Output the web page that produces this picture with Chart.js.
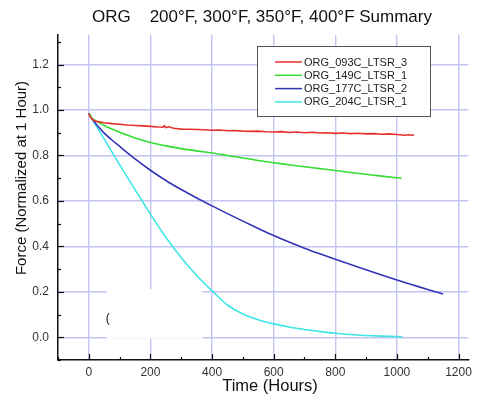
<!DOCTYPE html>
<html>
<head>
<meta charset="utf-8">
<script src="https://cdn.jsdelivr.net/npm/chart.js@4/dist/chart.umd.min.js"></script>
<style>
  html, body { margin: 0; padding: 0; background: #fff; }
  #wrap { width: 477px; height: 409px; }
</style>
</head>
<body>
<div id="wrap"><canvas id="myChart" width="477" height="409"></canvas></div>
<script>
// ---- data ----
const seriesNames = ['ORG_093C_LTSR_3', 'ORG_149C_LTSR_1', 'ORG_177C_LTSR_2', 'ORG_204C_LTSR_1'];

const redTime = [0, 5, 15, 25, 50, 75, 100, 125, 150, 175, 200, 225, 240, 245, 250, 260, 275, 300, 325, 350, 375, 400, 425, 450, 475, 500, 525, 550, 575, 600, 625, 650, 675, 700, 725, 750, 775, 800, 825, 850, 875, 900, 925, 950, 975, 1000, 1025, 1040, 1050, 1055];
const redForce = [0.985, 0.968, 0.956, 0.950, 0.944, 0.940, 0.937, 0.934, 0.932, 0.930, 0.928, 0.925, 0.924, 0.931, 0.923, 0.926, 0.920, 0.916, 0.915, 0.914, 0.913, 0.911, 0.912, 0.909, 0.910, 0.907, 0.906, 0.907, 0.904, 0.903, 0.905, 0.901, 0.903, 0.900, 0.902, 0.899, 0.900, 0.897, 0.899, 0.896, 0.898, 0.895, 0.896, 0.893, 0.895, 0.892, 0.889, 0.891, 0.888, 0.893];

const greenTime = [0, 10, 25, 50, 75, 100, 150, 200, 250, 300, 350, 400, 450, 500, 550, 600, 650, 700, 750, 800, 850, 900, 950, 1000, 1015];
const greenForce = [0.985, 0.965, 0.951, 0.932, 0.916, 0.902, 0.877, 0.857, 0.842, 0.830, 0.820, 0.811, 0.800, 0.789, 0.778, 0.768, 0.759, 0.750, 0.742, 0.734, 0.725, 0.717, 0.709, 0.702, 0.700];

const blueTime = [0, 10, 25, 50, 75, 100, 150, 200, 250, 300, 350, 400, 450, 500, 550, 600, 650, 700, 750, 800, 850, 900, 950, 1000, 1050, 1100, 1150];
const blueForce = [0.985, 0.962, 0.936, 0.898, 0.868, 0.840, 0.785, 0.735, 0.690, 0.650, 0.613, 0.578, 0.544, 0.511, 0.479, 0.448, 0.419, 0.392, 0.367, 0.343, 0.320, 0.297, 0.274, 0.252, 0.231, 0.210, 0.190];

const cyanTime = [0, 25, 50, 100, 150, 200, 250, 300, 350, 400, 450, 500, 550, 600, 650, 700, 750, 800, 850, 900, 950, 1000, 1018];
const cyanForce = [0.985, 0.928, 0.872, 0.760, 0.650, 0.542, 0.440, 0.350, 0.272, 0.204, 0.142, 0.102, 0.077, 0.059, 0.045, 0.034, 0.025, 0.018, 0.012, 0.008, 0.005, 0.003, 0.002];

const xTicks = [0, 200, 400, 600, 800, 1000, 1200];
const yTicks = [0.0, 0.2, 0.4, 0.6, 0.8, 1.0, 1.2];

const titleText = 'ORG    200°F, 300°F, 350°F, 400°F Summary';
const xTitle = 'Time (Hours)';
const yTitle = 'Force (Normalized at 1 Hour)';

const lineColors = ['#e8302c', '#33dd33', '#3434b8', '#3ee6e6'];
const FONT = 'Arial, "Liberation Sans", sans-serif';

function toPoints(xs, ys) {
    return xs.map((x, i) => ({ x: x, y: ys[i] }));
}

// inward ticks, titles, the white patch and the boxed legend
const decorPlugin = {
    id: 'decor',
    beforeDatasetsDraw(chart) {
        const ctx = chart.ctx;
        const xs = chart.scales.x, ys = chart.scales.y;
        // white patch sitting over the grid in the lower left
        const l = xs.getPixelForValue(58), r = xs.getPixelForValue(368);
        const t = ys.getPixelForValue(0.212), b = ys.getPixelForValue(-0.006);
        ctx.save();
        ctx.fillStyle = '#ffffff';
        ctx.fillRect(l, t, r - l, b - t);
        ctx.fillStyle = '#111';
        ctx.font = '12px ' + FONT;
        ctx.textBaseline = 'middle';
        ctx.fillText('(', l - 1, (t + b) / 2 + 5);
        ctx.restore();
    },
    afterDraw(chart) {
        const ctx = chart.ctx;
        const xs = chart.scales.x, ys = chart.scales.y;
        const area = chart.chartArea;
        ctx.save();
        ctx.strokeStyle = '#111';
        ctx.lineWidth = 1.2;
        // x ticks (major every 200, minor every 100)
        for (let v = -100; v <= 1200; v += 100) {
            const px = Math.round(xs.getPixelForValue(v)) + 0.5;
            const len = (v % 200 === 0) ? 6 : 3;
            ctx.beginPath();
            ctx.moveTo(px, area.bottom);
            ctx.lineTo(px, area.bottom - len);
            ctx.stroke();
        }
        // y ticks (major every 0.2, minor every 0.1)
        for (let k = -1; k <= 13; k++) {
            const py = Math.round(ys.getPixelForValue(k / 10)) + 0.5;
            const len = (k % 2 === 0) ? 6 : 3;
            ctx.beginPath();
            ctx.moveTo(area.left, py);
            ctx.lineTo(area.left + len, py);
            ctx.stroke();
        }

        // titles
        ctx.fillStyle = '#111';
        ctx.textAlign = 'center';
        ctx.textBaseline = 'middle';
        ctx.font = '17px ' + FONT;
        ctx.fillText(titleText, 262, 17);
        ctx.font = '16.5px ' + FONT;
        ctx.fillText(xTitle, 270, 386);
        ctx.save();
        ctx.translate(22, 178);
        ctx.rotate(-Math.PI / 2);
        ctx.font = '15px ' + FONT;
        ctx.fillText(yTitle, 0, 0);
        ctx.restore();

        // legend box
        const bx = 257, by = 46, bw = 173, bh = 70;
        ctx.fillStyle = '#fff';
        ctx.fillRect(bx, by, bw, bh);
        ctx.strokeStyle = '#555';
        ctx.lineWidth = 1;
        ctx.strokeRect(bx + 0.5, by + 0.5, bw, bh);
        ctx.font = '11px ' + FONT;
        ctx.textAlign = 'left';
        chart.data.datasets.forEach((ds, i) => {
            const yy = 62 + i * 13.3;
            ctx.strokeStyle = ds.borderColor;
            ctx.lineWidth = 1.5;
            ctx.beginPath();
            ctx.moveTo(275, yy);
            ctx.lineTo(302, yy);
            ctx.stroke();
            ctx.fillStyle = '#222';
            ctx.fillText(ds.label, 304, yy + 0.5);
        });
        ctx.restore();
    }
};

const ctx = document.getElementById('myChart').getContext('2d');
const chart = new Chart(ctx, {
    type: 'line',
    data: {
        datasets: [
            { label: seriesNames[0], data: toPoints(redTime, redForce), borderColor: lineColors[0] },
            { label: seriesNames[1], data: toPoints(greenTime, greenForce), borderColor: lineColors[1], cubicInterpolationMode: 'monotone' },
            { label: seriesNames[2], data: toPoints(blueTime, blueForce), borderColor: lineColors[2], cubicInterpolationMode: 'monotone' },
            { label: seriesNames[3], data: toPoints(cyanTime, cyanForce), borderColor: lineColors[3], cubicInterpolationMode: 'monotone' }
        ]
    },
    options: {
        responsive: false,
        animation: false,
        parsing: false,
        layout: { padding: { top: 35, right: 5, left: 0, bottom: 0 } },
        elements: {
            point: { radius: 0 },
            line: { borderWidth: 1.6, fill: false }
        },
        scales: {
            x: {
                type: 'linear',
                min: -100,
                max: 1232,
                afterBuildTicks: (scale) => { scale.ticks = xTicks.map(v => ({ value: v })); },
                afterFit: (scale) => { scale.height = 49; },
                ticks: {
                    color: '#333',
                    padding: 5,
                    maxRotation: 0,
                    font: { size: 12, family: FONT },
                    callback: (v) => String(v)
                },
                grid: { color: '#c4c4f2', lineWidth: 1.4, drawTicks: false },
                border: { color: '#111', width: 1.5 }
            },
            y: {
                type: 'linear',
                min: -0.1,
                max: 1.33,
                afterBuildTicks: (scale) => { scale.ticks = yTicks.map(v => ({ value: v })); },
                afterFit: (scale) => { scale.width = 58; },
                ticks: {
                    color: '#333',
                    padding: 9,
                    font: { size: 12, family: FONT },
                    callback: (v) => Number(v).toFixed(1)
                },
                grid: { color: '#c4c4f2', lineWidth: 1.4, drawTicks: false },
                border: { color: '#111', width: 1.5 }
            }
        },
        plugins: {
            legend: { display: false },
            title: { display: false },
            tooltip: { enabled: false }
        }
    },
    plugins: [decorPlugin]
});
</script>
</body>
</html>
